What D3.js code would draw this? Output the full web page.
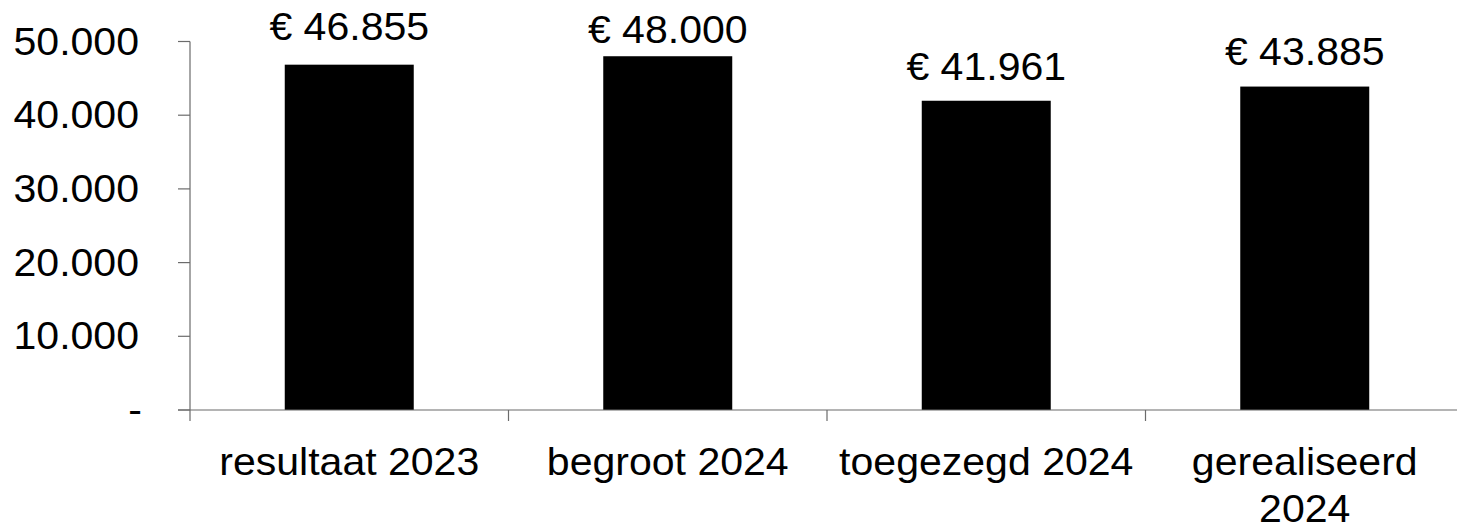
<!DOCTYPE html>
<html>
<head>
<meta charset="utf-8">
<script src="https://cdn.jsdelivr.net/npm/d3@7"></script>
<style>
  html, body { margin: 0; padding: 0; background: #fff; }
  svg { display: block; }
  text { font-family: "Liberation Sans", Arial, sans-serif; fill: #000; }
</style>
</head>
<body>
<svg id="chart" width="1457" height="524"></svg>
<script>
// ---- data ----
const categories = [["resultaat 2023"], ["begroot 2024"], ["toegezegd 2024"], ["gerealiseerd", "2024"]];
const values = [46855, 48000, 41961, 43885];
const yTicks = [0, 10000, 20000, 30000, 40000, 50000];

// ---- layout ----
const W = 1457, H = 524;
const axisX = 190, axisY0 = 410;
const xRight = 1464;
const yTop = 41.5;
const fontSize = 38;
const sx = 1.08;
const labelNudge = [-4, 8, 0, -1]; // fine placement of value labels

const nl = d3.formatLocale({decimal: ",", thousands: ".", grouping: [3], currency: ["€ ", ""]});
const fmt = nl.format(",.0f");

const svg = d3.select("#chart");

const x = d3.scaleBand().domain(d3.range(categories.length)).range([axisX, xRight]).padding(0);
const y = d3.scaleLinear().domain([0, 50000]).range([axisY0, yTop]);

const barW = x.bandwidth() * 0.405;

// bars
svg.append("g").selectAll("rect").data(values).join("rect")
  .attr("x", (d, i) => x(i) + x.bandwidth() / 2 - barW / 2)
  .attr("y", d => y(d))
  .attr("width", barW)
  .attr("height", d => y(0) - y(d))
  .attr("fill", "#000");

// y axis line + ticks
const axisColor = "#6b6b6b";
const ga = svg.append("g");
ga.append("line").attr("x1", axisX).attr("x2", axisX).attr("y1", y(50000)).attr("y2", axisY0 + 11)
  .attr("stroke", axisColor).attr("stroke-width", 1.2);
ga.selectAll("line.yt").data(yTicks).join("line").attr("class", "yt")
  .attr("x1", 178).attr("x2", axisX).attr("y1", d => y(d)).attr("y2", d => y(d))
  .attr("stroke", axisColor).attr("stroke-width", 1.2);

// x axis line + boundary ticks
ga.append("line").attr("x1", 178).attr("x2", xRight).attr("y1", axisY0).attr("y2", axisY0)
  .attr("stroke", axisColor).attr("stroke-width", 1.2);
const bounds = d3.range(1, categories.length + 1).map(i => i < categories.length ? x(i) : xRight);
ga.selectAll("line.xt").data(bounds).join("line").attr("class", "xt")
  .attr("x1", d => d).attr("x2", d => d).attr("y1", axisY0).attr("y2", axisY0 + 11)
  .attr("stroke", axisColor).attr("stroke-width", 1.2);

// y tick labels
svg.append("g").selectAll("text").data(yTicks).join("text")
  .attr("transform", d => `translate(${d === 0 ? 142 : 139},${y(d) + 13}) scale(${sx},1)`)
  .attr("text-anchor", "end")
  .style("font-size", fontSize + "px")
  .text(d => d === 0 ? "-" : fmt(d));

// category labels
const cg = svg.append("g").selectAll("g").data(categories).join("g")
  .attr("transform", (d, i) => `translate(${x(i) + x.bandwidth() / 2},475) scale(${sx},1)`);
cg.selectAll("text").data(d => d).join("text")
  .attr("x", 0).attr("y", (d, j) => j * 47)
  .attr("text-anchor", "middle")
  .style("font-size", fontSize + "px")
  .text(d => d);

// value labels
svg.append("g").selectAll("text").data(values).join("text")
  .attr("transform", (d, i) => `translate(${x(i) + x.bandwidth() / 2},${y(d) - 21 + labelNudge[i]}) scale(${sx},1)`)
  .attr("text-anchor", "middle")
  .style("font-size", fontSize + "px")
  .text(d => "€ " + fmt(d));
</script>
</body>
</html>
